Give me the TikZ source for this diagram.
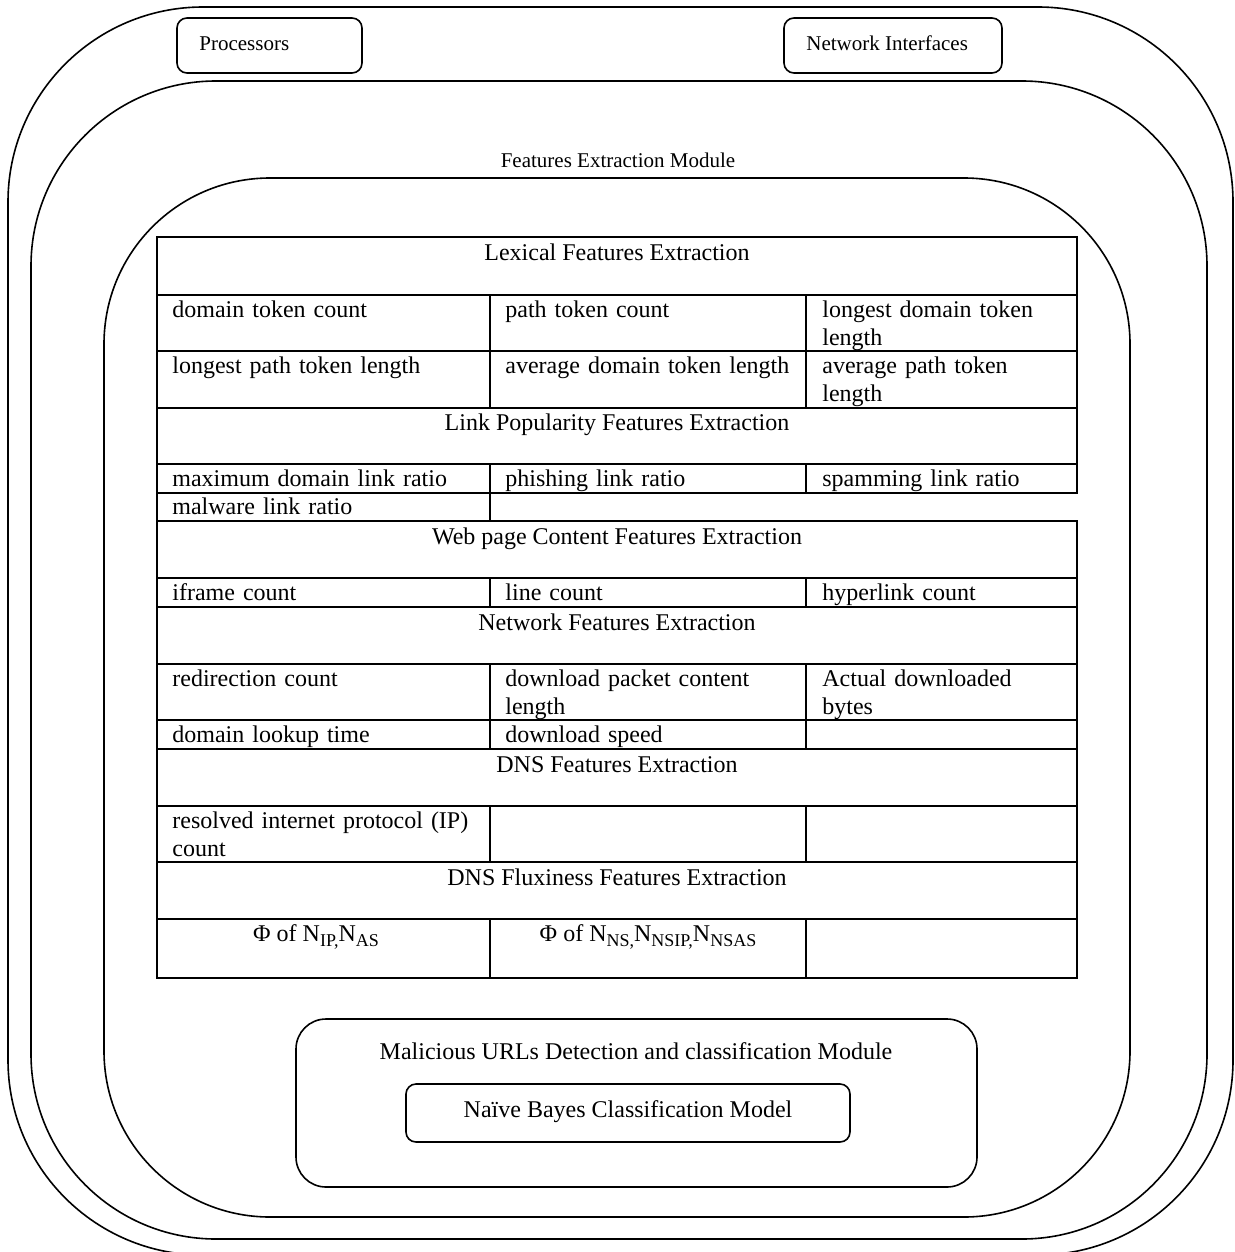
\documentclass[tikz,border=0pt]{standalone}
\usepackage{fontspec}
\setmainfont{Liberation Serif}
\newcommand{\mysub}[1]{\raisebox{-2.6pt}{\fontsize{9}{10}\selectfont #1}}
\begin{document}
\begin{tikzpicture}[x=0.5pt,y=-0.5pt,
  shell/.style={draw, line width=0.8pt, inner sep=0pt, outer sep=0pt, anchor=north west},
  grid/.style={line width=1pt, line cap=rect},
  lbl/.style={inner sep=0pt, font=\fontsize{10.5}{12.6}\selectfont},
  cell/.style={inner sep=0pt, anchor=base west, align=left, text width=160pt, font=\fontsize{12}{14}\selectfont},
  head/.style={inner sep=0pt, anchor=base, font=\fontsize{12}{14}\selectfont},
]
\useasboundingbox (0,0) rectangle (1235,1252);

% nested containers
\node[shell, rounded corners=97.5pt, minimum width=612.5pt, minimum height=624pt] (system) at (8,7) {};
\node[shell, rounded corners=92.5pt, minimum width=588pt, minimum height=579pt] (fem) at (31,81) {};
\node[shell, rounded corners=83pt, minimum width=513pt, minimum height=519.5pt] (inner) at (104,178) {};

% processors / interfaces
\node[shell, rounded corners=5pt, minimum width=92.5pt, minimum height=27.5pt] (proc) at (177,18) {};
\node[lbl, anchor=base west] (proct) at (199,51) {Processors};
\node[shell, rounded corners=5pt, minimum width=109pt, minimum height=27.5pt] (netif) at (784,18) {};
\node[lbl, anchor=base west] (netift) at (806,51) {Network Interfaces};

\node[lbl, anchor=base] (femt) at (618,167) {Features Extraction Module};

% table grid
\foreach \yy in {237,295,351,408,464,493,521,578,607,664,720,749,806,862,919,978}
  \draw[grid] (157,\yy) -- (1077,\yy);
\draw[grid] (157,237) -- (157,978);
\draw[grid] (1077,237) -- (1077,493);
\draw[grid] (1077,521) -- (1077,978);
\foreach \ya/\yb in {295/408,464/521,578/607,664/749,806/862,919/978}
  \draw[grid] (490,\ya) -- (490,\yb);
\foreach \ya/\yb in {295/408,464/493,578/607,664/749,806/862,919/978}
  \draw[grid] (806,\ya) -- (806,\yb);

% headers
\node[head] (h1) at (617,260) {Lexical Features Extraction};
\node[head] (h2) at (617,430) {Link Popularity Features Extraction};
\node[head] (h3) at (617,544) {Web page Content Features Extraction};
\node[head] (h4) at (617,630) {Network Features Extraction};
\node[head] (h5) at (617,772) {DNS Features Extraction};
\node[head] (h6) at (617,885) {DNS Fluxiness Features Extraction};

% cells
\node[cell] (c11) at (172,317) {domain token count};
\node[cell] (c12) at (505,317) {path token count};
\node[cell] (c13) at (822,317) {longest domain token\\length};
\node[cell] (c21) at (172,373) {longest path token length};
\node[cell] (c22) at (505,373) {average domain token length};
\node[cell] (c23) at (822,373) {average path token\\length};
\node[cell] (c31) at (172,486) {maximum domain link ratio};
\node[cell] (c32) at (505,486) {phishing link ratio};
\node[cell] (c33) at (822,486) {spamming link ratio};
\node[cell] (c41) at (172,514) {malware link ratio};
\node[cell] (c51) at (172,600) {iframe count};
\node[cell] (c52) at (505,600) {line count};
\node[cell] (c53) at (822,600) {hyperlink count};
\node[cell] (c61) at (172,686) {redirection count};
\node[cell] (c62) at (505,686) {download packet content\\length};
\node[cell] (c63) at (822,686) {Actual downloaded\\bytes};
\node[cell] (c71) at (172,742) {domain lookup time};
\node[cell] (c72) at (505,742) {download speed};
\node[cell] (c81) at (172,828) {resolved internet protocol (IP)\\count};
\node[head] (c91) at (316,941) {Φ of N\mysub{IP,}N\mysub{AS}};
\node[head] (c92) at (648,941) {Φ of N\mysub{NS,}N\mysub{NSIP,}N\mysub{NSAS}};

% detection module
\node[shell, rounded corners=15pt, minimum width=340.5pt, minimum height=84pt] (detect) at (296,1019) {};
\node[head] (detectt) at (636,1059) {Malicious URLs Detection and classification Module};
\node[shell, rounded corners=5pt, minimum width=222pt, minimum height=29pt] (nb) at (406,1084) {};
\node[head] (nbt) at (628,1117) {Naïve Bayes Classification Model};
\end{tikzpicture}
\end{document}
